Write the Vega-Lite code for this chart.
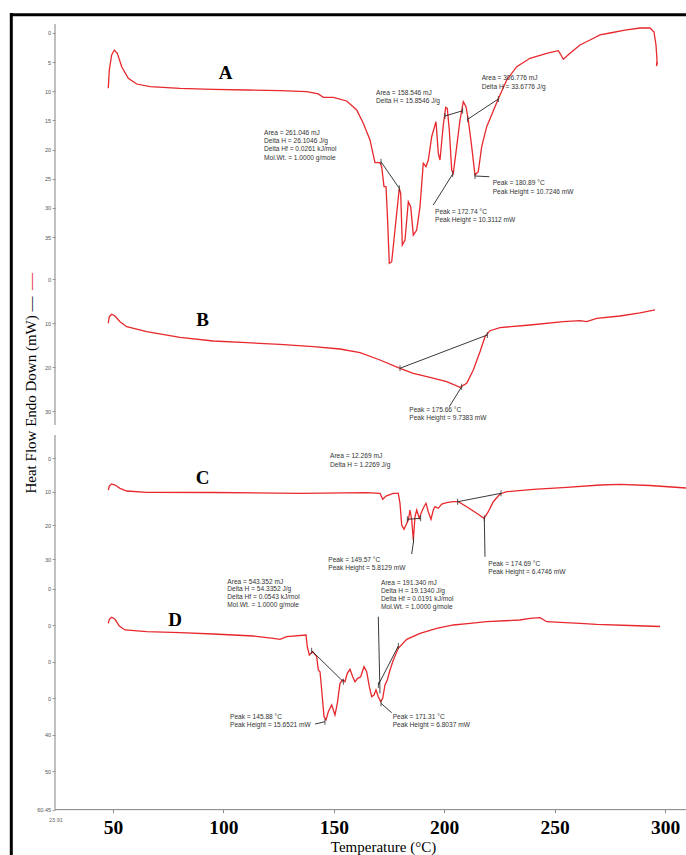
{
"$schema": "https://vega.github.io/schema/vega-lite/v6.json",
"width": 686, "height": 855,
"autosize": {"type": "none"},
"padding": 0,
"background": "white",
"config": {"view": {"stroke": null}, "axis": {"grid": false}},
"datasets": {
"curveA": [{"t":47.87,"v":9.49},{"t":48.32,"v":6.35},{"t":49.41,"v":3.77},{"t":50.59,"v":2.92},{"t":51.95,"v":3.48},{"t":53.94,"v":5.78},{"t":56.93,"v":7.77},{"t":60.73,"v":8.75},{"t":66.76,"v":9.21},{"t":80.34,"v":9.49},{"t":95.43,"v":9.66},{"t":110.55,"v":9.78},{"t":125.63,"v":9.90},{"t":137.73,"v":10.07},{"t":142.98,"v":10.46},{"t":145.24,"v":11.03},{"t":149.77,"v":11.03},{"t":155.84,"v":11.66},{"t":160.37,"v":13.21},{"t":163.36,"v":15.49},{"t":166.39,"v":18.35},{"t":167.89,"v":20.93},{"t":168.66,"v":22.25},{"t":170.92,"v":22.25},{"t":171.69,"v":22.93},{"t":172.74,"v":26.36},{"t":173.64,"v":26.36},{"t":174.23,"v":30.93},{"t":175.14,"v":39.5},{"t":176.22,"v":39.23},{"t":178.17,"v":32.08},{"t":179.66,"v":26.64},{"t":180.30,"v":27.50},{"t":181.03,"v":36.36},{"t":182.25,"v":35.51},{"t":183.74,"v":28.94},{"t":184.83,"v":29.79},{"t":186.01,"v":34.65},{"t":187.55,"v":33.79},{"t":189.04,"v":29.79},{"t":190.53,"v":22.35},{"t":191.76,"v":22.93},{"t":192.80,"v":21.78},{"t":194.34,"v":17.79},{"t":196.29,"v":15.21},{"t":197.33,"v":20.63},{"t":198.10,"v":21.78},{"t":199.59,"v":15.78},{"t":200.68,"v":12.74},{"t":201.40,"v":12.92},{"t":202.31,"v":16.64},{"t":203.40,"v":23.50},{"t":204.12,"v":24.07},{"t":205.66,"v":19.50},{"t":207.16,"v":14.92},{"t":208.65,"v":11.78},{"t":209.87,"v":12.64},{"t":210.92,"v":14.92},{"t":212.45,"v":19.50},{"t":213.95,"v":24.36},{"t":215.44,"v":23.79},{"t":216.98,"v":19.50},{"t":219.25,"v":16.07},{"t":223.01,"v":12.64},{"t":225.27,"v":10.63},{"t":228.31,"v":8.06},{"t":232.84,"v":5.78},{"t":238.86,"v":4.34},{"t":246.42,"v":3.48},{"t":251.68,"v":3.04},{"t":252.45,"v":3.48},{"t":253.94,"v":4.51},{"t":256.98,"v":3.48},{"t":261.50,"v":2.06},{"t":266.03,"v":1.20},{"t":270.56,"v":0.34},{"t":275.09,"v":0},{"t":281.88,"v":-0.51},{"t":288.68,"v":-0.86},{"t":293.21,"v":-0.86},{"t":295.02,"v":-0.17},{"t":295.92,"v":2.06},{"t":296.38,"v":4.63},{"t":296.15,"v":5.66},{"t":296.6,"v":4.97}],
"segA": [{"t":171.38,"v":22.08,"t2":179.66,"v2":26.64},{"t":200.36,"v":14.24,"t2":208.38,"v2":13.33},{"t":210.64,"v":14.80,"t2":224.50,"v2":11.32},{"t":203.85,"v":24.19,"t2":195.06,"v2":29.50},{"t":213.95,"v":24.53,"t2":220.43,"v2":24.65}],
"tickA": [{"t":171.38,"v":22.08},{"t":179.66,"v":26.64},{"t":200.36,"v":14.24},{"t":208.38,"v":13.33},{"t":210.64,"v":14.80},{"t":224.50,"v":11.32},{"t":203.85,"v":24.19},{"t":213.95,"v":24.53}],
"textA": [{"t":118.39,"v":17.20,"label":"Area = 261.046 mJ"},{"t":118.39,"v":18.59,"label":"Delta H = 26.1046 J/g"},{"t":118.39,"v":19.98,"label":"Delta Hf = 0.0261 kJ/mol"},{"t":118.39,"v":21.39,"label":"Mol.Wt. = 1.0000 g/mole"},{"t":169.11,"v":10.24,"label":"Area = 158.546 mJ"},{"t":169.11,"v":11.66,"label":"Delta H = 15.8546 J/g"},{"t":216.98,"v":7.77,"label":"Area = 306.776 mJ"},{"t":216.98,"v":9.21,"label":"Delta H = 33.6776 J/g"},{"t":221.97,"v":25.78,"label":"Peak = 180.89 °C"},{"t":221.97,"v":27.22,"label":"Peak Height = 10.7246 mW"},{"t":195.83,"v":30.65,"label":"Peak = 172.74 °C"},{"t":195.83,"v":32.08,"label":"Peak Height = 10.3112 mW"}],
"curveB": [{"t":47.87,"v":9.95},{"t":48.32,"v":8.45},{"t":49.41,"v":7.91},{"t":50.91,"v":8.30},{"t":53.17,"v":9.59},{"t":56.20,"v":10.73},{"t":65.26,"v":11.86},{"t":80.34,"v":13.14},{"t":95.43,"v":13.98},{"t":110.55,"v":14.36},{"t":125.63,"v":14.73},{"t":140.72,"v":15.27},{"t":152.81,"v":15.80},{"t":161.87,"v":16.64},{"t":170.92,"v":18.30},{"t":179.98,"v":20.18},{"t":186.01,"v":21.32},{"t":193.57,"v":22.23},{"t":201.13,"v":23.23},{"t":207.16,"v":24.50},{"t":210.19,"v":23.59},{"t":213.18,"v":20.57},{"t":216.21,"v":16.41},{"t":218.48,"v":13.0},{"t":220.74,"v":11.64},{"t":225.27,"v":10.95},{"t":238.86,"v":10.34},{"t":253.94,"v":9.59},{"t":261.50,"v":9.36},{"t":264.54,"v":9.59},{"t":269.06,"v":8.82},{"t":279.62,"v":8.30},{"t":288.68,"v":7.61},{"t":295.47,"v":6.93}],
"segB": [{"t":179.98,"v":20.18,"t2":219.52,"v2":12.61},{"t":207.93,"v":24.36,"t2":202.31,"v2":28.91}],
"tickB": [{"t":179.98,"v":20.18},{"t":219.52,"v":12.61},{"t":207.93,"v":24.36}],
"textB": [{"t":184.19,"v":29.66,"label":"Peak = 175.66 °C"},{"t":184.19,"v":31.55,"label":"Peak Height = 9.7383 mW"}],
"curveC": [{"t":47.87,"v":9.50},{"t":48.32,"v":8.32},{"t":49.41,"v":7.72},{"t":50.91,"v":8.02},{"t":53.17,"v":9.0},{"t":56.20,"v":9.80},{"t":65.26,"v":10.19},{"t":95.43,"v":10.25},{"t":134.69,"v":10.48},{"t":164.90,"v":10.31},{"t":170.92,"v":10.48},{"t":172.15,"v":12.27},{"t":173.64,"v":11.29},{"t":176.95,"v":10.48},{"t":179.21,"v":10.48},{"t":179.98,"v":13.45},{"t":180.75,"v":19.90},{"t":181.79,"v":21.18},{"t":182.70,"v":19.90},{"t":183.74,"v":18.41},{"t":184.51,"v":15.44},{"t":185.28,"v":18.41},{"t":186.01,"v":24.35},{"t":186.78,"v":17.43},{"t":187.55,"v":15.44},{"t":188.72,"v":17.91},{"t":189.81,"v":15.95},{"t":190.85,"v":14.46},{"t":191.76,"v":13.45},{"t":192.80,"v":15.95},{"t":194.02,"v":18.21},{"t":195.06,"v":15.44},{"t":195.83,"v":14.46},{"t":197.33,"v":14.94},{"t":198.87,"v":13.66},{"t":201.13,"v":13.28},{"t":204.12,"v":12.98},{"t":206.39,"v":12.98},{"t":210.19,"v":14.46},{"t":214.72,"v":16.42},{"t":218.03,"v":17.91},{"t":219.97,"v":15.95},{"t":222.24,"v":12.98},{"t":225.27,"v":10.69},{"t":228.31,"v":10.01},{"t":240.35,"v":9.30},{"t":255.48,"v":8.70},{"t":270.56,"v":8.02},{"t":279.62,"v":7.81},{"t":293.21,"v":8.17},{"t":309.51,"v":8.91}],
"segC": [{"t":183.29,"v":18.21,"t2":189.36,"v2":17.91},{"t":186.2,"v":24.35,"t2":185.28,"v2":28.51},{"t":206.11,"v":12.98,"t2":225.72,"v2":10.48},{"t":218.16,"v":17.91,"t2":218.48,"v2":29.31}],
"tickC": [{"t":183.29,"v":18.21},{"t":189.36,"v":17.91},{"t":206.11,"v":12.98},{"t":225.72,"v":10.48},{"t":218.16,"v":17.91},{"t":186.1,"v":24.35}],
"textC": [{"t":148.28,"v":-0.59,"label":"Area = 12.269 mJ"},{"t":148.28,"v":2.08,"label":"Delta H = 1.2269 J/g"},{"t":147.51,"v":30.29,"label":"Peak = 149.57 °C"},{"t":147.51,"v":32.76,"label":"Peak Height = 5.8129 mW"},{"t":219.97,"v":31.48,"label":"Peak = 174.69 °C"},{"t":219.97,"v":33.95,"label":"Peak Height = 6.4746 mW"}],
"curveD": [{"t":47.87,"v":9.40},{"t":48.32,"v":8.30},{"t":49.41,"v":7.75},{"t":50.91,"v":8.30},{"t":52.85,"v":10.14},{"t":55.43,"v":11.23},{"t":65.26,"v":11.70},{"t":80.34,"v":11.97},{"t":95.43,"v":12.33},{"t":113.54,"v":12.88},{"t":122.60,"v":13.51},{"t":125.63,"v":13.78},{"t":128.67,"v":13.07},{"t":137.41,"v":12.60},{"t":138.0,"v":15.81},{"t":138.90,"v":18.08},{"t":140.44,"v":17.18},{"t":142.26,"v":18.55},{"t":142.98,"v":22.19},{"t":143.75,"v":22.66},{"t":144.52,"v":27.67},{"t":145.56,"v":34.99},{"t":146.47,"v":35.89},{"t":147.51,"v":33.62},{"t":149.05,"v":31.78},{"t":150.54,"v":34.52},{"t":151.59,"v":31.32},{"t":152.81,"v":25.84},{"t":154.03,"v":24.93},{"t":155.07,"v":25.40},{"t":156.11,"v":23.10},{"t":157.34,"v":22.0},{"t":158.56,"v":24.03},{"t":159.60,"v":25.40},{"t":160.82,"v":24.47},{"t":162.18,"v":24.03},{"t":163.68,"v":21.29},{"t":164.90,"v":22.66},{"t":166.08,"v":26.77},{"t":167.16,"v":29.51},{"t":168.21,"v":29.04},{"t":169.11,"v":27.67},{"t":170.15,"v":29.51},{"t":171.24,"v":30.88},{"t":172.15,"v":29.95},{"t":173.19,"v":26.30},{"t":174.23,"v":24.93},{"t":175.45,"v":22.19},{"t":176.95,"v":19.45},{"t":179.21,"v":16.25},{"t":183.02,"v":13.78},{"t":189.04,"v":12.14},{"t":196.60,"v":10.77},{"t":204.12,"v":9.86},{"t":211.68,"v":9.40},{"t":219.25,"v":8.96},{"t":234.33,"v":8.49},{"t":238.86,"v":8.03},{"t":243.39,"v":7.86},{"t":246.42,"v":8.96},{"t":261.50,"v":9.40},{"t":269.06,"v":9.67},{"t":284.15,"v":10.0},{"t":297.74,"v":10.27}],
"segD": [{"t":139.99,"v":16.90,"t2":154.30,"v2":25.40},{"t":170.15,"v":7.59,"t2":170.92,"v2":28.58},{"t":170.15,"v":26.30,"t2":179.21,"v2":15.62},{"t":141.49,"v":36.99,"t2":146.01,"v2":36.36},{"t":171.38,"v":31.32,"t2":176.22,"v2":33.89}],
"tickD": [{"t":139.99,"v":16.90},{"t":154.30,"v":25.40},{"t":179.21,"v":15.62},{"t":170.15,"v":26.30},{"t":146.01,"v":36.36},{"t":171.38,"v":31.32}],
"textD": [{"t":101.77,"v":-2.0,"label":"Area = 543.352 mJ"},{"t":101.77,"v":0.08,"label":"Delta H = 54.3352 J/g"},{"t":101.77,"v":2.27,"label":"Delta Hf = 0.0543 kJ/mol"},{"t":101.77,"v":4.38,"label":"Mol.Wt. = 1.0000 g/mole"},{"t":171.38,"v":-1.73,"label":"Area = 191.340 mJ"},{"t":171.38,"v":0.47,"label":"Delta H = 19.1340 J/g"},{"t":171.38,"v":2.66,"label":"Delta Hf = 0.0191 kJ/mol"},{"t":171.38,"v":4.93,"label":"Mol.Wt. = 1.0000 g/mole"},{"t":102.99,"v":34.99,"label":"Peak = 145.88 °C"},{"t":102.99,"v":37.26,"label":"Peak Height = 15.6521 mW"},{"t":176.68,"v":34.99,"label":"Peak = 171.31 °C"},{"t":176.68,"v":37.26,"label":"Peak Height = 6.8037 mW"}]
},
"layer": [
{
"layer": [
{"data": {"name": "curveA"}, "mark": {"type": "line", "color": "#e8282c", "strokeWidth": 1.3},
 "encoding": {"x": {"field": "t", "type": "quantitative", "scale": {"domain": [-1.178, 309.51], "nice": false, "zero": false}},
  "y": {"field": "v", "type": "quantitative", "scale": {"domain": [-5.66, 140.99], "reverse": true, "nice": false, "zero": false},
   "axis": {"orient": "left", "offset": -55, "values": [0,5,10,15,20,25,30,35], "domain": false, "grid": false, "tickSize": 3, "tickColor": "#888", "tickWidth": 0.8, "labelFont": "Liberation Sans", "labelFontSize": 5.5, "labelColor": "#555", "labelPadding": 1.5, "labelOverlap": false, "labelFlush": false, "title": "—", "titleFont": "Liberation Serif", "titleFontSize": 17, "titleFontWeight": "normal", "titleColor": "#e8282c", "titleAngle": 270, "titleX": -25, "titleY": 281, "titleAlign": "center", "titleBaseline": "middle"}},
  "order": {"value": null}}},
{"data": {"name": "segA"}, "mark": {"type": "rule", "color": "#222", "strokeWidth": 0.9},
 "encoding": {"x": {"field": "t", "type": "quantitative"}, "x2": {"field": "t2"}, "y": {"field": "v", "type": "quantitative"}, "y2": {"field": "v2"}}},
{"data": {"name": "tickA"}, "mark": {"type": "tick", "orient": "vertical", "size": 6, "thickness": 0.8, "color": "#333", "opacity": 1},
 "encoding": {"x": {"field": "t", "type": "quantitative"}, "y": {"field": "v", "type": "quantitative"}}},
{"data": {"name": "textA"}, "mark": {"type": "text", "align": "left", "baseline": "middle", "font": "Liberation Sans", "fontSize": 6.6, "color": "#333"},
 "encoding": {"x": {"field": "t", "type": "quantitative"}, "y": {"field": "v", "type": "quantitative"}, "text": {"field": "label", "type": "nominal"}}},
{"data": {"values": [{"t": 101.04, "v": 6.91, "label": "A"}]}, "mark": {"type": "text", "font": "Liberation Serif", "fontWeight": "bold", "fontSize": 19, "color": "#000", "baseline": "middle"},
 "encoding": {"x": {"field": "t", "type": "quantitative"}, "y": {"field": "v", "type": "quantitative"}, "text": {"field": "label", "type": "nominal"}}},
{"data": {"values": [{"t": 3.94, "v": -3.43, "t2": 3.94, "v2": 140.99}, {"t": 3.35, "v": -3.14, "t2": 309.51, "v2": -3.14}]}, "mark": {"type": "rule", "color": "#000", "strokeWidth": 3},
 "encoding": {"x": {"field": "t", "type": "quantitative"}, "x2": {"field": "t2"}, "y": {"field": "v", "type": "quantitative"}, "y2": {"field": "v2"}}},
{"data": {"values": [{"t": 23.73, "v": -1.54, "t2": 23.73, "v2": 39.62}]}, "mark": {"type": "rule", "color": "#808080", "strokeWidth": 1},
 "encoding": {"x": {"field": "t", "type": "quantitative"}, "x2": {"field": "t2"}, "y": {"field": "v", "type": "quantitative"}, "y2": {"field": "v2"}}}
]
},
{
"layer": [
{"data": {"name": "curveB"}, "mark": {"type": "line", "color": "#e8282c", "strokeWidth": 1.3},
 "encoding": {"x": {"field": "t", "type": "quantitative", "scale": {"domain": [-1.178, 309.51], "nice": false, "zero": false}},
  "y": {"field": "v", "type": "quantitative", "scale": {"domain": [-63.52, 130.8], "reverse": true, "nice": false, "zero": false},
   "axis": {"orient": "left", "offset": -55, "values": [0,10,20,30], "domain": false, "grid": false, "tickSize": 3, "tickColor": "#888", "tickWidth": 0.8, "labelFont": "Liberation Sans", "labelFontSize": 5.5, "labelColor": "#555", "labelPadding": 1.5, "labelOverlap": false, "labelFlush": false, "title": "Heat Flow Endo Down (mW) —", "titleFont": "Liberation Serif", "titleFontSize": 15, "titleFontWeight": "normal", "titleColor": "#000", "titleAngle": 270, "titleX": -25, "titleY": 394.5, "titleAlign": "center", "titleBaseline": "middle"}},
  "order": {"value": null}}},
{"data": {"name": "segB"}, "mark": {"type": "rule", "color": "#222", "strokeWidth": 0.9},
 "encoding": {"x": {"field": "t", "type": "quantitative"}, "x2": {"field": "t2"}, "y": {"field": "v", "type": "quantitative"}, "y2": {"field": "v2"}}},
{"data": {"name": "tickB"}, "mark": {"type": "tick", "orient": "vertical", "size": 6, "thickness": 0.8, "color": "#333", "opacity": 1},
 "encoding": {"x": {"field": "t", "type": "quantitative"}, "y": {"field": "v", "type": "quantitative"}}},
{"data": {"name": "textB"}, "mark": {"type": "text", "align": "left", "baseline": "middle", "font": "Liberation Sans", "fontSize": 6.6, "color": "#333"},
 "encoding": {"x": {"field": "t", "type": "quantitative"}, "y": {"field": "v", "type": "quantitative"}, "text": {"field": "label", "type": "nominal"}}},
{"data": {"values": [{"t": 90.62, "v": 9.2, "label": "B"}]}, "mark": {"type": "text", "font": "Liberation Serif", "fontWeight": "bold", "fontSize": 19, "color": "#000", "baseline": "middle"},
 "encoding": {"x": {"field": "t", "type": "quantitative"}, "y": {"field": "v", "type": "quantitative"}, "text": {"field": "label", "type": "nominal"}}},
{"data": {"values": [{"t": 23.73, "v": -3.52, "t2": 23.73, "v2": 33.07}]}, "mark": {"type": "rule", "color": "#808080", "strokeWidth": 1},
 "encoding": {"x": {"field": "t", "type": "quantitative"}, "x2": {"field": "t2"}, "y": {"field": "v", "type": "quantitative"}, "y2": {"field": "v2"}}}
]
},
{
"layer": [
{"data": {"name": "curveC"}, "mark": {"type": "line", "color": "#e8282c", "strokeWidth": 1.3},
 "encoding": {"x": {"field": "t", "type": "quantitative", "scale": {"domain": [-1.178, 309.51], "nice": false, "zero": false}},
  "y": {"field": "v", "type": "quantitative", "scale": {"domain": [-136.03, 117.91], "reverse": true, "nice": false, "zero": false},
   "axis": {"orient": "left", "offset": -55, "values": [0,10,20,30], "domain": false, "grid": false, "tickSize": 3, "tickColor": "#888", "tickWidth": 0.8, "labelFont": "Liberation Sans", "labelFontSize": 5.5, "labelColor": "#555", "labelPadding": 1.5, "labelOverlap": false, "labelFlush": false, "title": null}},
  "order": {"value": null}}},
{"data": {"name": "segC"}, "mark": {"type": "rule", "color": "#222", "strokeWidth": 0.9},
 "encoding": {"x": {"field": "t", "type": "quantitative"}, "x2": {"field": "t2"}, "y": {"field": "v", "type": "quantitative"}, "y2": {"field": "v2"}}},
{"data": {"name": "tickC"}, "mark": {"type": "tick", "orient": "vertical", "size": 6, "thickness": 0.8, "color": "#333", "opacity": 1},
 "encoding": {"x": {"field": "t", "type": "quantitative"}, "y": {"field": "v", "type": "quantitative"}}},
{"data": {"name": "textC"}, "mark": {"type": "text", "align": "left", "baseline": "middle", "font": "Liberation Sans", "fontSize": 6.6, "color": "#333"},
 "encoding": {"x": {"field": "t", "type": "quantitative"}, "y": {"field": "v", "type": "quantitative"}, "text": {"field": "label", "type": "nominal"}}},
{"data": {"values": [{"t": 90.62, "v": 6.03, "label": "C"}]}, "mark": {"type": "text", "font": "Liberation Serif", "fontWeight": "bold", "fontSize": 19, "color": "#000", "baseline": "middle"},
 "encoding": {"x": {"field": "t", "type": "quantitative"}, "y": {"field": "v", "type": "quantitative"}, "text": {"field": "label", "type": "nominal"}}},
{"data": {"values": [{"t": 23.73, "v": -6.83, "t2": 23.73, "v2": 34.75}]}, "mark": {"type": "rule", "color": "#808080", "strokeWidth": 1},
 "encoding": {"x": {"field": "t", "type": "quantitative"}, "x2": {"field": "t2"}, "y": {"field": "v", "type": "quantitative"}, "y2": {"field": "v2"}}}
]
},
{
"layer": [
{"data": {"name": "curveD"}, "mark": {"type": "line", "color": "#e8282c", "strokeWidth": 1.3},
 "encoding": {"x": {"field": "t", "type": "quantitative", "scale": {"domain": [-1.178, 309.51], "nice": false, "zero": false},
   "axis": {"orient": "bottom", "offset": -45.4, "values": [23.91,50,100,150,200,250,300], "format": ".4~r", "domain": false, "grid": false, "tickSize": 3, "tickColor": "#888",
    "tickOpacity": {"condition": {"test": "datum.value < 30", "value": 0}, "value": 1},
    "labelFont": {"condition": {"test": "datum.value < 30", "value": "Liberation Sans"}, "value": "Liberation Serif"},
    "labelFontSize": {"condition": {"test": "datum.value < 30", "value": 5.5}, "value": 19.5},
    "labelFontWeight": {"condition": {"test": "datum.value < 30", "value": "normal"}, "value": "bold"},
    "labelColor": {"condition": {"test": "datum.value < 30", "value": "#666"}, "value": "#000"},
    "labelPadding": {"condition": {"test": "datum.value < 30", "value": 8.4}, "value": 20.5},
    "labelBaseline": "alphabetic", "labelFlush": false, "labelOverlap": false,
    "title": "Temperature (°C)", "titleFont": "Liberation Serif", "titleFontSize": 15, "titleFontWeight": "normal", "titleColor": "#000", "titleX": 383, "titleY": 41.5, "titleAlign": "center", "titleBaseline": "alphabetic"}},
  "y": {"field": "v", "type": "quantitative", "scale": {"domain": [-161.37, 72.88], "reverse": true, "nice": false, "zero": false},
   "axis": {"orient": "left", "offset": -55, "values": [0,10,20,30,40,50,60.45], "format": ".4~r", "labelExpr": "datum.value > 0 && datum.value < 40 ? '0' : datum.label", "domain": false, "grid": false, "tickSize": 3, "tickColor": "#888", "tickWidth": 0.8, "labelFont": "Liberation Sans", "labelFontSize": 5.5, "labelColor": "#555", "labelPadding": 1.5, "labelOverlap": false, "labelFlush": false, "title": null}},
  "order": {"value": null}}},
{"data": {"name": "segD"}, "mark": {"type": "rule", "color": "#222", "strokeWidth": 0.9},
 "encoding": {"x": {"field": "t", "type": "quantitative"}, "x2": {"field": "t2"}, "y": {"field": "v", "type": "quantitative"}, "y2": {"field": "v2"}}},
{"data": {"name": "tickD"}, "mark": {"type": "tick", "orient": "vertical", "size": 6, "thickness": 0.8, "color": "#333", "opacity": 1},
 "encoding": {"x": {"field": "t", "type": "quantitative"}, "y": {"field": "v", "type": "quantitative"}}},
{"data": {"name": "textD"}, "mark": {"type": "text", "align": "left", "baseline": "middle", "font": "Liberation Sans", "fontSize": 6.6, "color": "#333"},
 "encoding": {"x": {"field": "t", "type": "quantitative"}, "y": {"field": "v", "type": "quantitative"}, "text": {"field": "label", "type": "nominal"}}},
{"data": {"values": [{"t": 78.08, "v": 8.49, "label": "D"}]}, "mark": {"type": "text", "font": "Liberation Serif", "fontWeight": "bold", "fontSize": 19, "color": "#000", "baseline": "middle"},
 "encoding": {"x": {"field": "t", "type": "quantitative"}, "y": {"field": "v", "type": "quantitative"}, "text": {"field": "label", "type": "nominal"}}},
{"data": {"values": [{"t": 23.73, "v": -3.84, "t2": 23.73, "v2": 60.45}, {"t": 23.73, "v": 60.45, "t2": 309.51, "v2": 60.45}]}, "mark": {"type": "rule", "color": "#808080", "strokeWidth": 1},
 "encoding": {"x": {"field": "t", "type": "quantitative"}, "x2": {"field": "t2"}, "y": {"field": "v", "type": "quantitative"}, "y2": {"field": "v2"}}}
]
}
],
"resolve": {"scale": {"y": "independent"}}
}
